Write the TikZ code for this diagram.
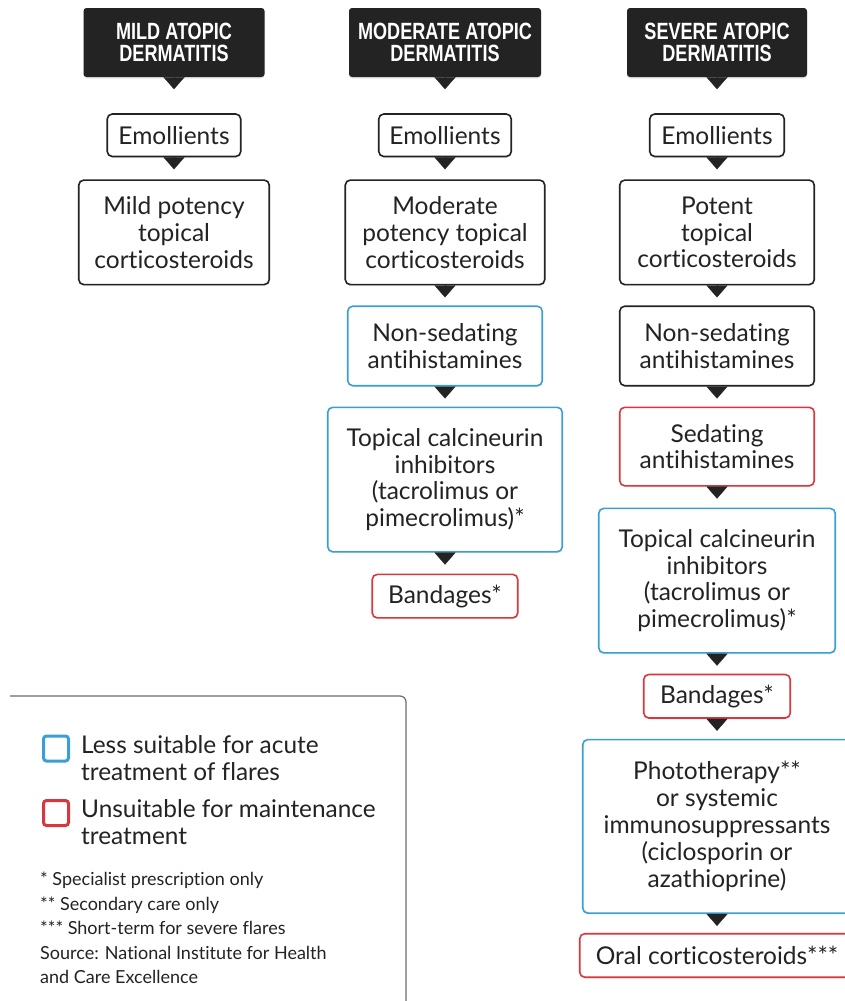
\documentclass[tikz,border=0pt]{standalone}
\usepackage{fontspec}
\setmainfont[Ligatures={NoCommon,NoRare}]{Lato}
\newfontfamily\headfont[FakeStretch=0.77]{Liberation Sans}
\usepackage{tikz}
\usetikzlibrary{positioning,arrows.meta,shadows}

\definecolor{inkgray}{HTML}{232323}
\definecolor{lessblue}{HTML}{3B9FD4}
\definecolor{unsuitred}{HTML}{D8373F}
\definecolor{framegray}{HTML}{6E6E6E}

\begin{document}
\begin{tikzpicture}[x=1pt,y=1pt,
		every node/.style={text=inkgray},
		head/.style={fill=inkgray,text=white,rounded corners=3pt,minimum height=69pt,align=center,
			font=\headfont\bfseries\fontsize{23.5}{22.5}\selectfont,
			drop shadow={shadow xshift=0pt,shadow yshift=-1.5pt,opacity=0.18}},
		box/.style={draw=inkgray,line width=1.6pt,fill=white,rounded corners=5pt,align=center,
			font=\fontsize{24.5}{26.8}\selectfont,
			drop shadow={shadow xshift=0.5pt,shadow yshift=-1.5pt,opacity=0.15}},
		less/.style={box,draw=lessblue},
		unsuit/.style={box,draw=unsuitred},
		flow/.style={draw=inkgray,fill=inkgray,line width=0.2pt,-{Triangle[width=21pt,length=12pt]},shorten >=8pt},
		keysq/.style={line width=3pt,rounded corners=3pt,minimum size=25pt,inner sep=0pt},
		keytext/.style={align=left,inner sep=0pt,font=\fontsize{24.4}{27}\selectfont},
		notes/.style={align=left,inner sep=0pt,font=\fontsize{18}{24.5}\selectfont}]
		\useasboundingbox (0,0) rectangle (844,-1001);
		\fill[white] (0,0) rectangle (844,-1001);
		
		\node[head,minimum width=181pt] (mildhead) at (174,-42.5) {MILD ATOPIC\\DERMATITIS};
		\node[box,minimum width=133.5pt,minimum height=42.5pt,below=36pt of mildhead] (mildemol) {Emollients};
		\node[box,minimum width=190.5pt,minimum height=104.5pt,below=22pt of mildemol] (mildster) {Mild potency\\topical\\corticosteroids};
		
		\node[head,minimum width=192pt] (modhead) at (445,-42.5) {MODERATE ATOPIC\\DERMATITIS};
		\node[box,minimum width=132.5pt,minimum height=42.5pt,below=36pt of modhead] (modemol) {Emollients};
		\node[box,minimum width=199.5pt,minimum height=104.5pt,below=22pt of modemol] (modster) {Moderate\\potency topical\\corticosteroids};
		\node[less,minimum width=194.5pt,minimum height=79.5pt,below=20pt of modster] (modanti) {Non-sedating\\antihistamines};
		\node[less,minimum width=234.5pt,minimum height=144.5pt,below=20pt of modanti] (modcalc) {Topical calcineurin\\inhibitors\\(tacrolimus or\\pimecrolimus)*};
		\node[unsuit,minimum width=145.5pt,minimum height=43.5pt,below=21pt of modcalc] (modband) {Bandages*};
		
		\node[head,minimum width=180pt] (sevhead) at (717,-42.5) {SEVERE ATOPIC\\DERMATITIS};
		\node[box,minimum width=134.5pt,minimum height=42.5pt,below=36pt of sevhead] (sevemol) {Emollients};
		\node[box,minimum width=194.5pt,minimum height=104.5pt,below=22pt of sevemol] (sevster) {Potent\\topical\\corticosteroids};
		\node[box,minimum width=194.5pt,minimum height=79.5pt,below=20pt of sevster] (sevanti) {Non-sedating\\antihistamines};
		\node[unsuit,minimum width=194.5pt,minimum height=78.5pt,below=20pt of sevanti] (sevsed) {Sedating\\antihistamines};
		\node[less,minimum width=236.5pt,minimum height=144.5pt,below=21pt of sevsed] (sevcalc) {Topical calcineurin\\inhibitors\\(tacrolimus or\\pimecrolimus)*};
		\node[unsuit,minimum width=146.5pt,minimum height=43.5pt,below=20pt of sevcalc] (sevband) {Bandages*};
		\node[less,minimum width=268.5pt,minimum height=173.5pt,below=20pt of sevband] (sevphoto) {Phototherapy**\\or systemic\\immunosuppressants\\(ciclosporin or\\azathioprine)};
		\node[unsuit,minimum width=274.5pt,minimum height=43.5pt,below=19pt of sevphoto] (sevoral) {Oral corticosteroids***};
		
		\path[flow]
		(mildhead) edge[shorten >=24pt] (mildemol)
		(mildemol) edge[shorten >=10pt] (mildster)
		(modhead) edge[shorten >=24pt] (modemol)
		(modemol) edge[shorten >=10pt] (modster)
		(modster) edge (modanti)
		(modanti) edge (modcalc)
		(modcalc) edge[shorten >=9pt] (modband)
		(sevhead) edge[shorten >=24pt] (sevemol)
		(sevemol) edge[shorten >=10pt] (sevster)
		(sevster) edge (sevanti)
		(sevanti) edge (sevsed)
		(sevsed) edge[shorten >=9pt] (sevcalc)
		(sevcalc) edge (sevband)
		(sevband) edge (sevphoto)
		(sevphoto) edge[shorten >=7pt] (sevoral);
		
		\draw[framegray,line width=1.2pt,rounded corners=6pt] (10,-696) -- (406,-696) -- (406,-1012);
		\node[keysq,draw=lessblue] (lesskey) at (56,-748.5) {};
		\node[keysq,draw=unsuitred] (unsuitkey) at (56,-813) {};
		\node[keytext,anchor=north west] (lesstext) at (81,-735) {Less suitable for acute\\treatment of flares};
		\node[keytext,anchor=north west] (unsuittext) at (81,-799) {Unsuitable for maintenance\\treatment};
		\node[notes,anchor=north west] (notes) at (40,-872) {* Specialist prescription only\\** Secondary care only\\*** Short-term for severe flares\\Source: National Institute for Health\\and Care Excellence};
	\end{tikzpicture}
\end{document}
